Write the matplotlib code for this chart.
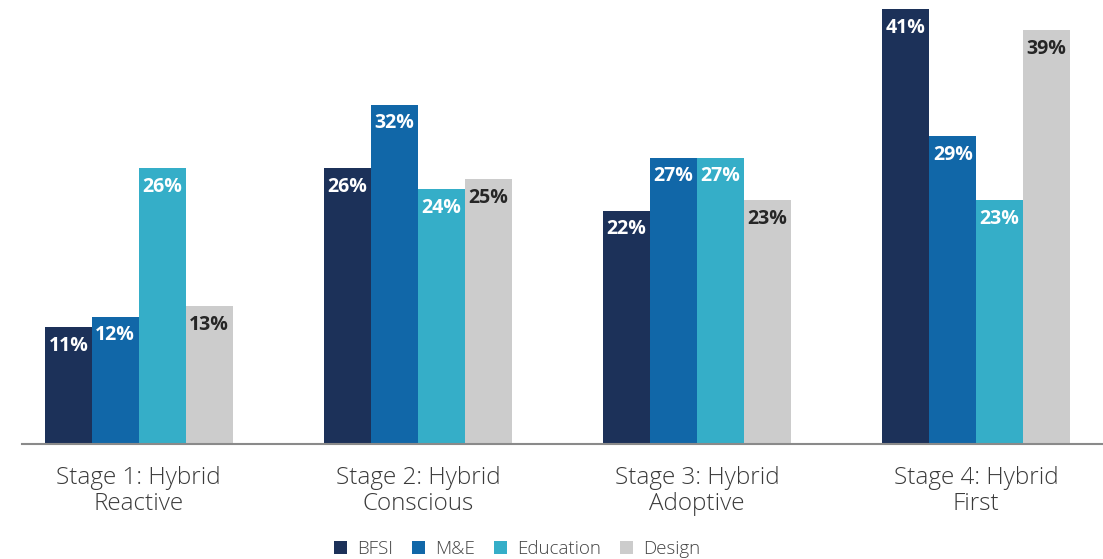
import matplotlib.pyplot as plt
import numpy as np

# Data
stages = ['Stage 1: Hybrid\nReactive', 'Stage 2: Hybrid\nConscious',
          'Stage 3: Hybrid\nAdoptive', 'Stage 4: Hybrid\nFirst']
series = ['BFSI', 'M&E', 'Education', 'Design']
bfsi = [11, 26, 22, 41]
m_e = [12, 32, 27, 29]
education = [26, 24, 27, 23]
design = [13, 25, 23, 39]

colors = ['#1c3159', '#1167a8', '#35aec8', '#cccccc']
label_colors = ['white', 'white', 'white', '#262626']

plt.rcParams['font.family'] = ['Open Sans', 'DejaVu Sans']

fig = plt.figure(figsize=(11.03, 5.59), dpi=100)
ax = fig.add_axes([22 / 1103, 115 / 559, 1 - 22 / 1103, 444 / 559])

x = np.arange(len(stages))
w = 0.168
values = [bfsi, m_e, education, design]
for i, vals in enumerate(values):
    pos = x + (i - 1.5) * w
    ax.bar(pos, vals, width=w, color=colors[i], label=series[i])
    for px, v in zip(pos, vals):
        ax.annotate(f'{v}%', (px, v), xytext=(0, -13.5), textcoords='offset points',
                    ha='center', va='center', fontsize=14, fontweight='bold',
                    color=label_colors[i])

ax.set_xlim(-0.418, 3.454)
ax.set_ylim(0, 41.85)
ax.set_yticks([])
ax.set_xticks(x)
ax.set_xticklabels(stages, fontsize=17.5, fontweight='light', color='#3a3a3a',
                   linespacing=1.12)
ax.tick_params(axis='x', length=0, pad=16)
for s in ['top', 'right', 'left']:
    ax.spines[s].set_visible(False)
ax.spines['bottom'].set_color('#8a8a8a')
ax.spines['bottom'].set_linewidth(1.5)

fig.legend(loc='center', bbox_to_anchor=(517 / 1103, 1 - 549 / 559), ncol=4,
           frameon=False, handlelength=0.7, handleheight=0.7,
           handletextpad=0.55, columnspacing=1.0, labelcolor='#444444',
           prop={'weight': 'light', 'size': 13.5})

fig.savefig('out.png', dpi=100)
